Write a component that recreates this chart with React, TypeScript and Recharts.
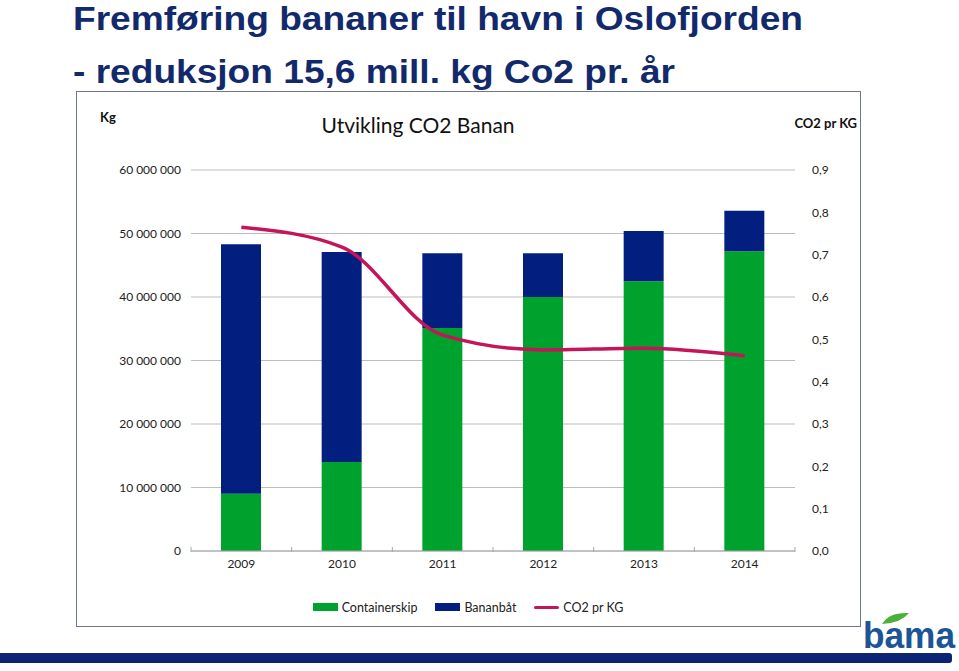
import React from 'react';
import { ComposedChart, Bar, Line, XAxis, YAxis, CartesianGrid, Legend } from 'recharts';

const years = ['2009', '2010', '2011', '2012', '2013', '2014'];
const containerskip = [9000000, 14000000, 35100000, 40000000, 42500000, 47200000];
const bananbat = [39300000, 33100000, 11800000, 6900000, 7900000, 6400000];
const co2PrKg = [0.765, 0.718, 0.51, 0.475, 0.479, 0.461];
const kgTicks = [0, 10000000, 20000000, 30000000, 40000000, 50000000, 60000000];
const co2Ticks = [0, 0.1, 0.2, 0.3, 0.4, 0.5, 0.6, 0.7, 0.8, 0.9];
const legendOrder = ['Containerskip', 'Bananbåt', 'CO2 pr KG'];

const data = years.map((year, i) => ({
  year,
  Containerskip: containerskip[i],
  'Bananbåt': bananbat[i],
  'CO2 pr KG': co2PrKg[i],
}));

const FONT = 'Lato, "Noto Sans", sans-serif';
const TEXT = '#222';

const fmtKg = (v: number) => String(v).replace(/\B(?=(\d{3})+(?!\d))/g, ' ');
const fmtCo2 = (v: number) => v.toFixed(1).replace('.', ',');

const YearTick: React.FC<any> = ({ x, y, payload, index }) => {
  const half = payload.offset || 50;
  const axisY = y - 12;
  return (
    <g>
      <line x1={x - half} x2={x - half} y1={axisY} y2={axisY + 5} stroke="#a6a6a6" />
      {index === years.length - 1 && (
        <line x1={x + half} x2={x + half} y1={axisY} y2={axisY + 5} stroke="#a6a6a6" />
      )}
      <text x={x} y={y} dy="0.71em" textAnchor="middle" fontSize={12} fill={TEXT} fontFamily={FONT}>
        {payload.value}
      </text>
    </g>
  );
};

const LegendContent: React.FC<any> = ({ payload }) => {
  const items = [...(payload || [])].sort(
    (a: any, b: any) => legendOrder.indexOf(a.value) - legendOrder.indexOf(b.value)
  );
  return (
    <div style={{ display: 'flex', justifyContent: 'center', alignItems: 'center', height: 20, fontSize: 12.5, color: TEXT, fontFamily: FONT }}>
      {items.map((p: any, i: number) => (
        <div key={p.value} style={{ display: 'flex', alignItems: 'center', marginRight: i < items.length - 1 ? 18 : 0 }}>
          {p.type === 'line' ? (
            <span style={{ width: 25, height: 3, background: p.color, marginRight: 4, borderRadius: 2 }} />
          ) : (
            <span style={{ width: 25, height: 8, background: p.color, marginRight: 4 }} />
          )}
          <span>{p.value}</span>
        </div>
      ))}
    </div>
  );
};

const App: React.FC = () => {
  return (
    <div style={{ position: 'absolute', left: 0, top: 0, width: 959, height: 671, background: '#fff', overflow: 'hidden' }}>
      <svg width={959} height={92} style={{ position: 'absolute', left: 0, top: 0 }}>
        <text x={73} y={30} fontSize={33} fontWeight="bold" fill="#122a6c" fontFamily='"Liberation Sans", Arial, sans-serif' textLength={730} lengthAdjust="spacingAndGlyphs">
          Fremføring bananer til havn i Oslofjorden
        </text>
        <text x={73} y={83} fontSize={33} fontWeight="bold" fill="#122a6c" fontFamily='"Liberation Sans", Arial, sans-serif' textLength={602} lengthAdjust="spacingAndGlyphs">
          - reduksjon 15,6 mill. kg Co2 pr. år
        </text>
      </svg>

      <div style={{ position: 'absolute', left: 76, top: 91, width: 785, height: 536, border: '1px solid #6f7490', boxSizing: 'border-box' }} />

      <div style={{ position: 'absolute', left: 76, top: 91, width: 785, height: 536 }}>
        <div style={{ position: 'absolute', left: 24, top: 18, fontSize: 13, fontWeight: 'bold', fontFamily: FONT, color: '#111' }}>Kg</div>
        <div style={{ position: 'absolute', left: 0, width: 684, top: 21, textAlign: 'center', fontSize: 21, fontFamily: FONT, color: '#111' }}>Utvikling CO2 Banan</div>
        <div style={{ position: 'absolute', right: 4, top: 24, fontSize: 13, fontWeight: 'bold', fontFamily: FONT, color: '#111' }}>CO2 pr KG</div>
        <ComposedChart width={785} height={536} data={data} margin={{ top: 79, right: 16, left: 15, bottom: 10 }} style={{ fontFamily: FONT }}>
          <CartesianGrid vertical={false} stroke="#bdbdbd" yAxisId="kg" />
          <XAxis dataKey="year" axisLine={{ stroke: '#a6a6a6' }} tickLine={false} tick={<YearTick />} height={46} interval={0} />
          <YAxis yAxisId="kg" orientation="left" width={100} domain={[0, 60000000]} ticks={kgTicks} tickFormatter={fmtKg} axisLine={false} tickLine={false} tickMargin={4} tick={{ fontSize: 12, fill: TEXT }} />
          <YAxis yAxisId="co2" orientation="right" width={50} domain={[0, 0.9]} ticks={co2Ticks} tickFormatter={fmtCo2} axisLine={false} tickLine={false} tickMargin={11} tick={{ fontSize: 12, fill: TEXT, textAnchor: 'start' }} />
          <Legend verticalAlign="bottom" content={<LegendContent />} />
          <Bar yAxisId="kg" dataKey="Containerskip" stackId="a" fill="#00a22e" barSize={40} isAnimationActive={false} />
          <Bar yAxisId="kg" dataKey="Bananbåt" stackId="a" fill="#021f80" barSize={40} isAnimationActive={false} />
          <Line yAxisId="co2" type="monotone" dataKey="CO2 pr KG" stroke="#c4145a" strokeWidth={3.5} dot={false} isAnimationActive={false} legendType="line" />
        </ComposedChart>
      </div>

      <div style={{ position: 'absolute', left: 0, top: 653, width: 952, height: 10, background: '#0b2473', borderTopRightRadius: 3, borderBottomRightRadius: 3 }} />

      <svg width={101} height={60} style={{ position: 'absolute', left: 858, top: 600 }}>
        <path d="M24 24 Q31 12 51 13 Q43 23 24 24 Z" fill="#4daf3c" />
        <text x={5} y={48} fontSize={36} fontWeight="bold" fill="#1b5596" fontFamily='"Liberation Sans", Arial, sans-serif' textLength={92} lengthAdjust="spacingAndGlyphs">
          bama
        </text>
      </svg>
    </div>
  );
};

export default App;
